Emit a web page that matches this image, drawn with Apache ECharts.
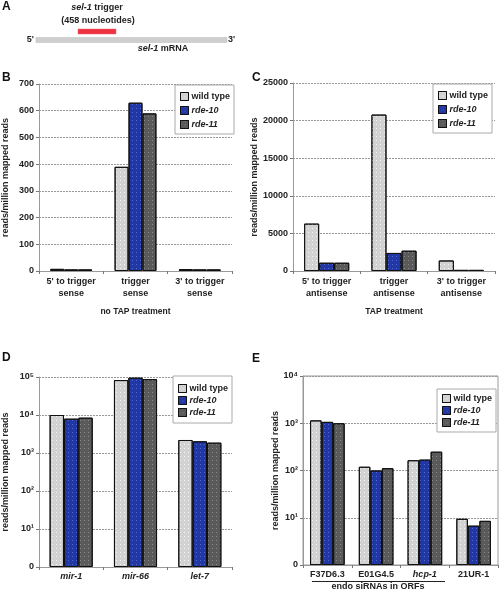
<!DOCTYPE html>
<html><head><meta charset="utf-8">
<script src="https://cdn.jsdelivr.net/npm/echarts@6/dist/echarts.min.js"></script>
<style>html,body{margin:0;padding:0;background:#fff}#c{width:499px;height:592px}</style>
</head><body><div id="c"></div>
<script>
const seriesNames = ['wild type', 'rde-10', 'rde-11'];
const bCats = ["5' to trigger\nsense", "trigger\nsense", "3' to trigger\nsense"];
const bWild = [8, 390, 7];
const bRde10 = [6, 630, 6];
const bRde11 = [6, 590, 6];
const cCats = ["5' to trigger\nantisense", "trigger\nantisense", "3' to trigger\nantisense"];
const cWild = [6300, 20800, 1400];
const cRde10 = [1100, 2400, 150];
const cRde11 = [1100, 2700, 150];
const dCats = ['mir-1', 'mir-66', 'let-7'];
const dWild = [10000, 83000, 2200];
const dRde10 = [8000, 96000, 2030];
const dRde11 = [8500, 88000, 1870];
const eCats = ['F37D6.3', 'E01G4.5', 'hcp-1', '21UR-1'];
const eWild = [1150, 120, 165, 9.5];
const eRde10 = [1070, 100, 170, 6.8];
const eRde11 = [1000, 112, 250, 8.6];
const supDigits = ['⁰','¹','²','³','⁴','⁵','⁶'];

const FONT = 'Liberation Sans';
const colors = ['#d2d2d2', '#2237a6', '#5a5a5a'];
const decals = [
  {symbol: 'rect', symbolSize: 1, dashArrayX: [1, 3], dashArrayY: [1, 3], color: 'rgba(255,255,255,0.75)'},
  {symbol: 'rect', symbolSize: 1, dashArrayX: [1, 3], dashArrayY: [1, 3], color: 'rgba(120,140,220,0.6)'},
  {symbol: 'rect', symbolSize: 1, dashArrayX: [1, 3], dashArrayY: [1, 3], color: 'rgba(170,170,170,0.6)'}
];

const chart = echarts.init(document.getElementById('c'), null, {renderer: 'canvas'});

function logFmt(v) {
  if (v <= 1) return '0';
  const n = Math.round(Math.log10(v));
  return '10' + supDigits[n];
}

const grids = [
  {left: 38, top: 84, width: 194, height: 187},
  {left: 293, top: 83, width: 202, height: 188},
  {left: 38, top: 377, width: 194, height: 190},
  {left: 303, top: 376, width: 195, height: 189, show: true, borderColor: '#999', borderWidth: 1}
];

const axisLineStyle = {lineStyle: {color: '#999', width: 1}};
const splitLine = {show: true, lineStyle: {color: '#999', type: [2, 1], width: 1}};
const labelBase = {fontFamily: FONT, fontSize: 9, color: '#222', fontWeight: 'bold'};
const nameStyle = {fontFamily: FONT, fontSize: 8.5, color: '#222', fontWeight: 'bold'};
const yNameStyle = {fontFamily: FONT, fontSize: 9, color: '#222', fontWeight: 'bold'};

function xAxisCfg(gi, cats, extra) {
  return Object.assign({
    type: 'category', gridIndex: gi, data: cats,
    axisLine: axisLineStyle,
    axisTick: {show: true, length: 3, lineStyle: {color: '#777'}},
    axisLabel: Object.assign({}, labelBase, {margin: 5, lineHeight: 12, interval: 0})
  }, extra || {});
}

const yAxes = [
  {type: 'value', gridIndex: 0, min: 0, max: 700, interval: 100,
   name: 'reads/million mapped reads', nameLocation: 'middle', nameGap: 29, nameTextStyle: yNameStyle,
   axisLine: Object.assign({show: true}, axisLineStyle), axisTick: {show: true, length: 3, lineStyle: {color: '#777'}},
   axisLabel: Object.assign({}, labelBase, {margin: 5}), splitLine: splitLine},
  {type: 'value', gridIndex: 1, min: 0, max: 25000, interval: 5000,
   name: 'reads/million mapped reads', nameLocation: 'middle', nameGap: 33, nameTextStyle: yNameStyle,
   axisLine: Object.assign({show: true}, axisLineStyle), axisTick: {show: true, length: 3, lineStyle: {color: '#777'}},
   axisLabel: Object.assign({}, labelBase, {margin: 5, formatter: v => String(v)}), splitLine: splitLine},
  {type: 'log', logBase: 10, gridIndex: 2, min: 1, max: 100000,
   name: 'reads/million mapped reads', nameLocation: 'middle', nameGap: 29, nameTextStyle: yNameStyle,
   axisLine: Object.assign({show: true}, axisLineStyle), axisTick: {show: true, length: 3, lineStyle: {color: '#777'}},
   axisLabel: Object.assign({}, labelBase, {margin: 5, formatter: logFmt}), splitLine: splitLine, minorTick: {show: false}},
  {type: 'log', logBase: 10, gridIndex: 3, min: 1, max: 10000,
   name: 'reads/million mapped reads', nameLocation: 'middle', nameGap: 20, nameTextStyle: yNameStyle,
   axisLine: Object.assign({show: true}, axisLineStyle), axisTick: {show: true, length: 3, lineStyle: {color: '#777'}},
   axisLabel: Object.assign({}, labelBase, {margin: 5, formatter: logFmt}), splitLine: splitLine}
];

const xAxes = [
  xAxisCfg(0, bCats, {name: 'no TAP treatment', nameLocation: 'middle', nameGap: 36, nameTextStyle: nameStyle}),
  xAxisCfg(1, cCats, {name: 'TAP treatment', nameLocation: 'middle', nameGap: 36, nameTextStyle: nameStyle}),
  xAxisCfg(2, dCats, {axisLabel: Object.assign({}, labelBase, {margin: 5, fontStyle: 'italic', interval: 0})}),
  xAxisCfg(3, eCats, {axisLabel: Object.assign({}, labelBase, {margin: 5, interval: 0,
     formatter: v => v === 'hcp-1' ? '{i|' + v + '}' : v,
     rich: {i: Object.assign({}, labelBase, {fontStyle: 'italic'})}})})
];

const panelData = [
  [bWild, bRde10, bRde11, '35%'],
  [cWild, cRde10, cRde11, '33%'],
  [dWild, dRde10, dRde11, '33%'],
  [eWild, eRde10, eRde11, '29%']
];
const series = [];
panelData.forEach((p, gi) => {
  for (let k = 0; k < 3; k++) {
    series.push({
      type: 'bar', name: seriesNames[k], xAxisIndex: gi, yAxisIndex: gi, data: p[k],
      barGap: '0%', barCategoryGap: p[3],
      itemStyle: {color: colors[k], borderColor: '#111', borderWidth: 1, decal: decals[k]},
      emphasis: {disabled: true}
    });
  }
});

function legendCfg(left, top, gap, pad) {
  return {
    left: left, top: top, orient: 'vertical', itemWidth: 8, itemHeight: 8, itemGap: gap,
    icon: 'rect', backgroundColor: '#fff', borderColor: '#aaa', borderWidth: 1, padding: pad,
    textStyle: {fontFamily: FONT, fontSize: 9, color: '#222', fontWeight: 'bold', padding: [0, 0, 0, -2]},
    selectedMode: false,
    data: [{name: 'wild type', itemStyle: {borderColor: '#111', borderWidth: 1}},
           {name: 'rde-10', textStyle: {fontStyle: 'italic'}, itemStyle: {borderColor: '#111', borderWidth: 1}},
           {name: 'rde-11', textStyle: {fontStyle: 'italic'}, itemStyle: {borderColor: '#111', borderWidth: 1}}]
  };
}

const letterStyle = {fontFamily: FONT, fontSize: 12, fontWeight: 'bold', fill: '#111'};
const smallText = {fontFamily: FONT, fontSize: 9, fontWeight: 'bold', fill: '#222'};

const graphic = [
  {type: 'text', left: 2, top: 1, style: Object.assign({text: 'A'}, letterStyle)},
  {type: 'text', left: 2, top: 72, style: Object.assign({text: 'B'}, letterStyle)},
  {type: 'text', left: 252, top: 72, style: Object.assign({text: 'C'}, letterStyle)},
  {type: 'text', left: 2, top: 352, style: Object.assign({text: 'D'}, letterStyle)},
  {type: 'text', left: 252, top: 353, style: Object.assign({text: 'E'}, letterStyle)},
  // panel A schematic
  {type: 'rect', shape: {x: 36, y: 37.5, width: 191, height: 5}, style: {fill: '#cfcfcf', stroke: '#bbb', lineWidth: 0.5}},
  {type: 'rect', shape: {x: 78, y: 29, width: 38, height: 5}, style: {fill: '#ee3340', stroke: '#f06070', lineWidth: 0.5}},
  {type: 'text', x: 34, y: 40, style: Object.assign({text: "5'", align: 'right', verticalAlign: 'middle'}, smallText)},
  {type: 'text', x: 228, y: 40, style: Object.assign({text: "3'", align: 'left', verticalAlign: 'middle'}, smallText)},
  {type: 'text', x: 97, y: 8, style: {text: '{i|sel-1} trigger', align: 'center', verticalAlign: 'middle', font: 'bold 9px ' + FONT, fill: '#222',
     rich: {i: {fontStyle: 'italic', fontFamily: FONT, fontSize: 9, fontWeight: 'bold', fill: '#222'}}}},
  {type: 'text', x: 98, y: 21, style: Object.assign({text: '(458 nucleotides)', align: 'center', verticalAlign: 'middle'}, smallText)},
  {type: 'text', x: 163, y: 49, style: {text: '{i|sel-1} mRNA', align: 'center', verticalAlign: 'middle', font: 'bold 9px ' + FONT, fill: '#222',
     rich: {i: {fontStyle: 'italic', fontFamily: FONT, fontSize: 9, fontWeight: 'bold', fill: '#222'}}}},
  // panel E group label
  {type: 'line', shape: {x1: 312, y1: 581.5, x2: 445, y2: 581.5}, style: {stroke: '#222', lineWidth: 1}},
  {type: 'text', x: 378, y: 587, style: Object.assign({text: 'endo siRNAs in ORFs', align: 'center', verticalAlign: 'middle'}, smallText)}
];

chart.setOption({
  animation: false,
  backgroundColor: '#fff',
  grid: grids,
  xAxis: xAxes,
  yAxis: yAxes,
  legend: [legendCfg(175, 85, 5, [7, 4, 5, 5]), legendCfg(433, 84, 5, [7, 4, 5, 5]),
           legendCfg(173, 376, 3, [8, 4, 6, 5]), legendCfg(437, 389, 3, [5, 4, 5, 5])],
  series: series,
  graphic: graphic
});
</script></body></html>
